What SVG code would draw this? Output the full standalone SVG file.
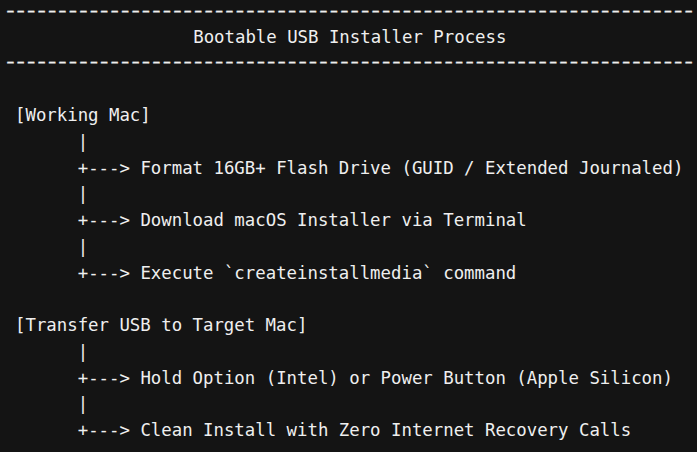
<svg xmlns="http://www.w3.org/2000/svg" width="697" height="452" viewBox="0 0 697 452">
  <style>
    text { font-family: "DejaVu Sans Mono", "Liberation Mono", monospace; font-size: 17.35px; fill: #efefef; white-space: pre; }
    .rule { letter-spacing: -2.856px; stroke: #efefef; stroke-width: 0.35px; }
    .conn { fill: #efefef; }
  </style>
  <rect x="0" y="0" width="697" height="452" fill="#141414"/>
  <g id="header">
    <text class="rule" transform="scale(1.376,1)" x="2.29" y="16.3">------------------------------------------------------------------</text>
    <text id="title" x="193.2" y="42.65">Bootable USB Installer Process</text>
    <text class="rule" transform="scale(1.376,1)" x="2.29" y="67.3">------------------------------------------------------------------</text>
  </g>
  <g id="node-working-mac">
    <text x="15" y="121.4">[Working Mac]</text>
  </g>
  <g id="node-format">
    <text x="140.4" y="173.9">Format 16GB+ Flash Drive (GUID / Extended Journaled)</text>
  </g>
  <g id="node-download">
    <text x="140.4" y="226.4">Download macOS Installer via Terminal</text>
  </g>
  <g id="node-execute">
    <text x="140.4" y="278.9">Execute `createinstallmedia` command</text>
  </g>
  <g id="node-transfer">
    <text x="15" y="331.4">[Transfer USB to Target Mac]</text>
  </g>
  <g id="node-hold">
    <text x="140.4" y="383.9">Hold Option (Intel) or Power Button (Apple Silicon)</text>
  </g>
  <g id="node-clean">
    <text x="140.4" y="436.4">Clean Install with Zero Internet Recovery Calls</text>
  </g>
  <g id="connectors" class="conn">
    <text x="77.7" y="147.65">|</text>
    <text x="77.7" y="173.9">+---&gt;</text>
    <text x="77.7" y="200.15">|</text>
    <text x="77.7" y="226.4">+---&gt;</text>
    <text x="77.7" y="252.65">|</text>
    <text x="77.7" y="278.9">+---&gt;</text>
    <text x="77.7" y="357.65">|</text>
    <text x="77.7" y="383.9">+---&gt;</text>
    <text x="77.7" y="410.15">|</text>
    <text x="77.7" y="436.4">+---&gt;</text>
  </g>
</svg>
